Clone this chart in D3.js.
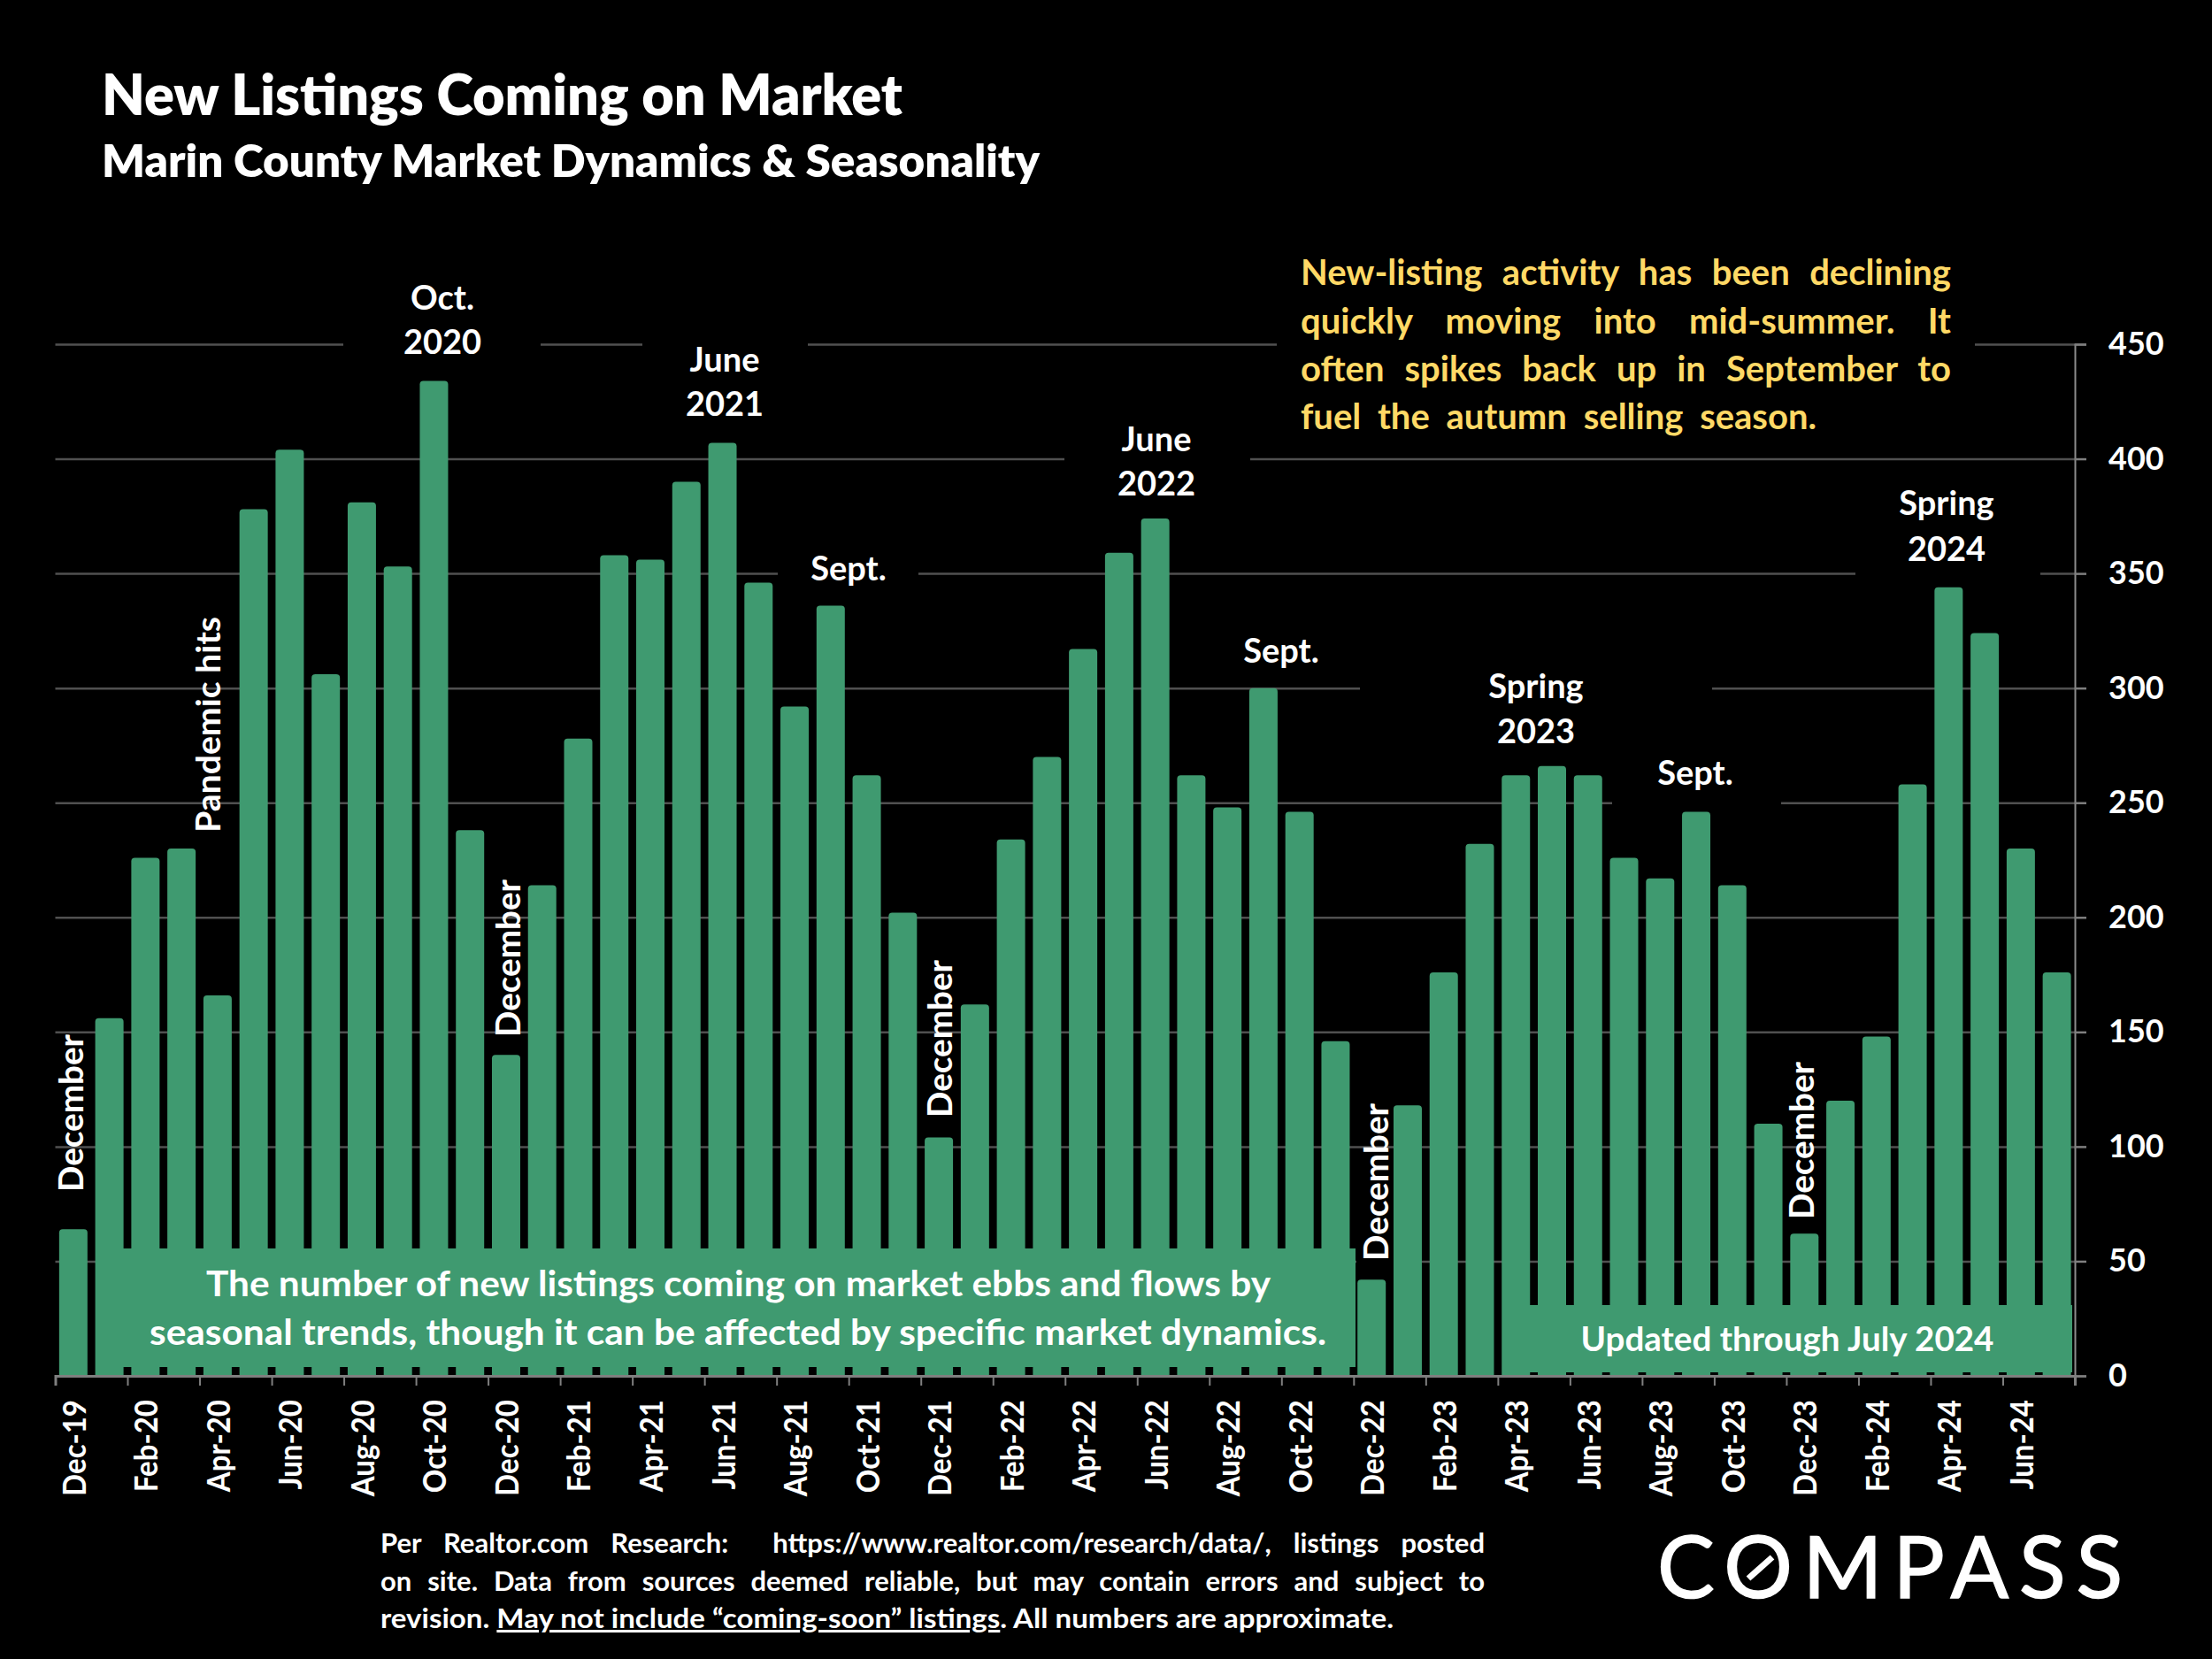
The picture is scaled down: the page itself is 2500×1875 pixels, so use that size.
<!DOCTYPE html>
<html><head><meta charset="utf-8">
<script src="https://cdn.jsdelivr.net/npm/d3@7/dist/d3.min.js"></script>
<style>html,body{margin:0;padding:0;background:#000}svg{display:block}text{font-family:Lato,"Open Sans",sans-serif;font-weight:700;white-space:pre}</style>
</head><body><svg id="c" width="2500" height="1875"></svg>
<script>
const months=["Dec-19","Jan-20","Feb-20","Mar-20","Apr-20","May-20","Jun-20","Jul-20","Aug-20","Sep-20","Oct-20","Nov-20","Dec-20","Jan-21","Feb-21","Mar-21","Apr-21","May-21","Jun-21","Jul-21","Aug-21","Sep-21","Oct-21","Nov-21","Dec-21","Jan-22","Feb-22","Mar-22","Apr-22","May-22","Jun-22","Jul-22","Aug-22","Sep-22","Oct-22","Nov-22","Dec-22","Jan-23","Feb-23","Mar-23","Apr-23","May-23","Jun-23","Jul-23","Aug-23","Sep-23","Oct-23","Nov-23","Dec-23","Jan-24","Feb-24","Mar-24","Apr-24","May-24","Jun-24","Jul-24"];
const listings=[64,156,226,230,166,378,404,306,381,353,434,238,140,214,278,358,356,390,407,346,292,336,262,202,104,162,234,270,317,359,374,262,248,300,246,146,42,118,176,232,262,266,262,226,217,246,214,110,62,120,148,258,344,324,230,176];
const xTickLabels=["Dec-19","Feb-20","Apr-20","Jun-20","Aug-20","Oct-20","Dec-20","Feb-21","Apr-21","Jun-21","Aug-21","Oct-21","Dec-21","Feb-22","Apr-22","Jun-22","Aug-22","Oct-22","Dec-22","Feb-23","Apr-23","Jun-23","Aug-23","Oct-23","Dec-23","Feb-24","Apr-24","Jun-24"];
const yTicks=[0,50,100,150,200,250,300,350,400,450];

const L=62.5,R=2345,T=389,B=1555,GREEN="#3f9a70",YEL="#ffd966",GRID="#505050";
const svg=d3.select("#c");
svg.append("rect").attr("width",2500).attr("height",1875).attr("fill","#000");
const x=d3.scaleBand().domain(months).range([L,R]).paddingInner(0.215).paddingOuter(0.107);
const y=d3.scaleLinear().domain([0,450]).range([B,T]);
const edge=d3.scaleLinear().domain([0,months.length]).range([L,R]);

// gridlines
const grid=svg.append("g").attr("transform",`translate(${R},0)`).call(d3.axisLeft(y).tickValues(yTicks.slice(1)).tickSize(R-L).tickFormat(""));
grid.select(".domain").remove();
grid.selectAll("line").attr("stroke",GRID).attr("stroke-width",2.5);

// black masks behind the annotations
const masks=[[388,611,T-10,T+10],[726,913,T-10,T+10],[1443,2232,T-10,T+10],[1203,1413,y(400)-10,y(400)+10],[879,1038,y(350)-10,y(350)+10],[2097,2306,y(350)-10,y(350)+10],[1537,1935,y(300)-10,y(300)+10],[1822,2013,y(250)-10,y(250)+10],[1533,1576,y(50)-10,y(50)+10]];
svg.append("g").selectAll("rect").data(masks).join("rect").attr("x",d=>d[0]).attr("width",d=>d[1]-d[0]).attr("y",d=>d[2]).attr("height",d=>d[3]-d[2]).attr("fill","#000");

// right axis
const yAx=svg.append("g").attr("transform",`translate(${R},0)`).call(d3.axisRight(y).tickValues(yTicks).tickSize(13).tickPadding(25));
yAx.select(".domain").attr("stroke","#8c8c8c").attr("stroke-width",2);
yAx.selectAll("line").attr("stroke","#7f7f7f").attr("stroke-width",2.5);
yAx.selectAll("text").attr("fill","#fff").style("font-size","36px").attr("font-family",null);

// bars
const r=4;
svg.append("g").selectAll("path").data(months).join("path").attr("fill",GREEN).attr("d",(m,i)=>{
  const p=d3.path(),a=x(m),b=a+x.bandwidth(),t=y(listings[i]);
  p.moveTo(a,B);p.lineTo(a,t+r);p.arcTo(a,t,a+r,t,r);p.lineTo(b-r,t);p.arcTo(b,t,b,t+r,r);p.lineTo(b,B);p.closePath();return p.toString();
});

// x axis
const xTicks=svg.append("g").attr("transform",`translate(0,${B})`).call(d3.axisBottom(edge).tickValues(d3.range(0,months.length+1,2)).tickSize(11).tickFormat(""));
xTicks.select(".domain").attr("stroke","#7f7f7f").attr("stroke-width",3);
xTicks.selectAll("line").attr("stroke","#7f7f7f").attr("stroke-width",2);
const xAx=svg.append("g").attr("transform",`translate(0,${B})`).call(d3.axisBottom(x).tickValues(xTickLabels).tickSize(0));
xAx.select(".domain").remove();
xAx.selectAll("text").attr("fill","#fff").style("font-size","37px").attr("font-family",null)
  .attr("text-anchor","end").attr("dy",null).attr("y",null).attr("x",null)
  .attr("transform","translate(14,27) rotate(-90)")
  .each(function(){d3.select(this).attr("lengthAdjust","spacingAndGlyphs").attr("textLength",this.getComputedTextLength()*33/37);});

// green callouts
svg.append("rect").attr("x",108.5).attr("y",1411).attr("width",1423.5).attr("height",134).attr("fill",GREEN);
svg.append("rect").attr("x",1698).attr("y",1475).attr("width",644).attr("height",76).attr("fill",GREEN);

function label(str,px,py,o={}){
  const t=svg.append("text").attr("x",px).attr("y",py).attr("fill",o.fill||"#fff").attr("font-size",o.size||36).attr("text-anchor",o.anchor||"start").text(str);
  if(o.weight)t.style("font-weight",o.weight);
  if(o.rot)t.attr("transform",`rotate(-90 ${px} ${py})`);
  if(o.w)t.attr("textLength",o.w).attr("lengthAdjust",o.adj||"spacingAndGlyphs");
  return t;
}
function just(t,w){const n=t.node().getComputedTextLength(),s=(t.text().match(/ /g)||[]).length;t.attr("word-spacing",(w-n)/s);return t;}

label("New Listings Coming on Market",115,130,{size:64,w:905}).style("font-weight",800);
label("Marin County Market Dynamics & Seasonality",115,200,{size:51,w:1060}).style("font-weight",800);

["Oct.|500|350","2020|500|400","June|819|420","2021|819|470","Sept.|959|656","June|1307|510","2022|1307|560","Sept.|1448|749","Spring|1736|789","2023|1736|840","Sept.|1916|887","Spring|2200|582","2024|2200|634"].forEach(s=>{
  const [a,b,c]=s.split("|");label(a,+b,+c,{anchor:"middle",size:38});
});
[[94,1347],[588,1172],[1076,1263],[1569,1425],[2050,1378]].forEach(p=>label("December",p[0],p[1],{rot:1,size:38,w:178}));
label("Pandemic hits",249,941,{rot:1,size:38,w:244});

just(label("New-listing activity has been declining",1470,322,{fill:YEL,size:40}),735);
just(label("quickly moving into mid-summer. It",1470,377,{fill:YEL,size:40}),735);
just(label("often spikes back up in September to",1470,431,{fill:YEL,size:40}),735);
just(label("fuel the autumn selling season.",1470,485,{fill:YEL,size:40}),583);

label("The number of new listings coming on market ebbs and flows by",834.5,1465,{anchor:"middle",size:41,w:1203});
label("seasonal trends, though it can be affected by specific market dynamics.",834,1520,{anchor:"middle",size:41,w:1330});
label("Updated through July 2024",2020,1527,{anchor:"middle",size:38,w:467});

just(label("Per Realtor.com Research:  https://www.realtor.com/research/data/, listings posted",430,1755,{size:31}),1248);
just(label("on site. Data from sources deemed reliable, but may contain errors and subject to",430,1798,{size:31}),1248);
const f3=label("",430,1840,{size:31,w:1145});
f3.append("tspan").text("revision. ");
f3.append("tspan").attr("text-decoration","underline").text("May not include “coming-soon” listings");
f3.append("tspan").text(". All numbers are approximate.");

// logo wordmark
label("COMPASS",1873,1806,{size:97,w:526,adj:"spacing",weight:400}).attr("stroke","#fff").attr("stroke-width",1.5);
svg.append("line").attr("x1",1976).attr("y1",1784).attr("x2",2003).attr("y2",1760).attr("stroke","#fff").attr("stroke-width",7);
</script></body></html>
